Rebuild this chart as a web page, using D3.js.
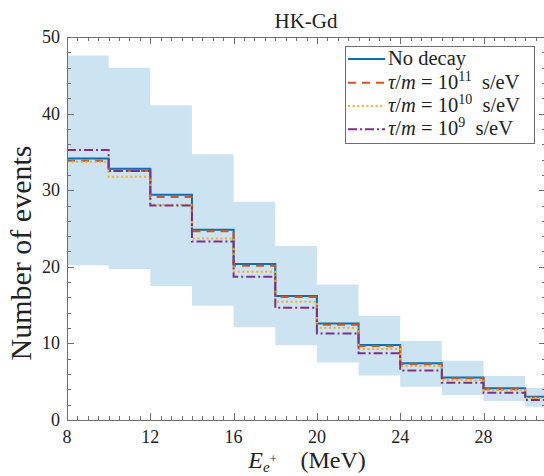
<!DOCTYPE html>
<html><head><meta charset="utf-8">
<script src="https://cdn.jsdelivr.net/npm/d3@7"></script>
<style>
html,body{margin:0;padding:0;background:#fff;}
svg{display:block;}
text{font-family:"Liberation Serif","Times New Roman",serif;fill:#222;}
</style></head>
<body>
<svg id="c" width="544" height="476"></svg>
<script>
// ---- data ----
const binStarts = [8,10,12,14,16,18,20,22,24,26,28,30];
const binWidth = 2;
const noDecay = [34.15,32.8,29.4,24.85,20.35,16.2,12.6,9.8,7.4,5.55,4.13,3.05];
const tau11   = [33.85,32.55,29.1,24.65,20.15,16.05,12.45,9.65,7.3,5.45,4.0,2.95];
const tau10   = [33.7,31.75,28.1,23.7,19.35,15.45,12.05,9.27,7.05,5.22,3.9,2.88];
const tau9    = [35.25,32.5,28.0,23.3,18.7,14.65,11.3,8.7,6.45,4.87,3.57,2.6];
const bandUpper = [47.6,46.0,41.1,34.7,28.5,22.7,17.7,13.6,10.3,7.75,5.74,4.2];
const bandLower = [20.2,19.7,17.5,14.9,12.1,9.75,7.5,5.8,4.35,3.26,2.48,1.74];
const xTicks = [8,12,16,20,24,28];
const yTicks = [0,10,20,30,40,50];
const seriesNames = ["No decay","τ/m = 10^11 s/eV","τ/m = 10^10 s/eV","τ/m = 10^9 s/eV"];

const svg = d3.select("#c");
const L=67, R=546, T=37, B=420;
const x = d3.scaleLinear().domain([8,31]).range([L,R]);
const y = d3.scaleLinear().domain([0,50]).range([B,T]);

svg.append("clipPath").attr("id","clip").append("rect")
  .attr("x",L).attr("y",T).attr("width",R-L).attr("height",B-T);
const plot = svg.append("g").attr("clip-path","url(#clip)");

function stepPts(vals){
  const pts = binStarts.map((s,i)=>[s, vals[i]]);
  pts.push([binStarts[binStarts.length-1]+binWidth, vals[vals.length-1]]);
  return pts;
}
// band
const bandPts = binStarts.map((s,i)=>({x:s,u:bandUpper[i],l:bandLower[i]}));
bandPts.push({x:binStarts[binStarts.length-1]+binWidth,u:bandUpper[bandUpper.length-1],l:bandLower[bandLower.length-1]});
plot.append("path").datum(bandPts)
  .attr("d", d3.area().curve(d3.curveStepAfter).x(d=>x(d.x)).y0(d=>y(d.l)).y1(d=>y(d.u)))
  .attr("fill","#0072BD").attr("fill-opacity",0.2).attr("stroke","none");

const styles = [
  {vals:noDecay, color:"#0072BD", dash:null},
  {vals:tau11, color:"#D95319", dash:"8,6"},
  {vals:tau10, color:"#EDB120", dash:"2,2.6"},
  {vals:tau9, color:"#7E2F8E", dash:"9,3,2,3"}
];
const line = d3.line().curve(d3.curveStepAfter).x(d=>x(d[0])).y(d=>y(d[1]));
styles.forEach(s=>{
  plot.append("path").datum(stepPts(s.vals)).attr("d",line)
    .attr("fill","none").attr("stroke",s.color).attr("stroke-width",2)
    .attr("stroke-dasharray",s.dash);
});

// axes frame
const axCol = "#6e6e6e";
const g = svg.append("g").attr("stroke",axCol).attr("stroke-width",1).attr("fill","none");
g.append("line").attr("x1",L).attr("x2",R).attr("y1",B+0.5).attr("y2",B+0.5);
g.append("line").attr("x1",L).attr("x2",R).attr("y1",T+0.5).attr("y2",T+0.5);
g.append("line").attr("x1",L+0.5).attr("x2",L+0.5).attr("y1",T).attr("y2",B);
g.append("line").attr("x1",R+0.5).attr("x2",R+0.5).attr("y1",T).attr("y2",B);
// x ticks
const xMinor = d3.range(8, 31.01, 0.5);
xMinor.forEach(v=>{
  const major = xTicks.includes(v);
  const len = major?7:4;
  const px = Math.round(x(v))+0.5;
  g.append("line").attr("x1",px).attr("x2",px).attr("y1",B).attr("y2",B-len);
  g.append("line").attr("x1",px).attr("x2",px).attr("y1",T).attr("y2",T+len);
});
const yMinor = d3.range(0, 50.01, 2);
yMinor.concat(yTicks).forEach(v=>{
  const major = yTicks.includes(v);
  const len = major?7:4;
  const py = Math.round(y(v))+0.5;
  g.append("line").attr("x1",L).attr("x2",L+len).attr("y1",py).attr("y2",py);
  g.append("line").attr("x1",R).attr("x2",R-len).attr("y1",py).attr("y2",py);
});
// tick labels
xTicks.forEach(v=>{
  svg.append("text").attr("x",x(v)).attr("y",443).attr("text-anchor","middle")
    .attr("font-size",18).text(v);
});
yTicks.forEach(v=>{
  svg.append("text").attr("x",60).attr("y",y(v)+6).attr("text-anchor","end")
    .attr("font-size",18).text(v);
});

// title
svg.append("text").attr("x",306).attr("y",28).attr("text-anchor","middle")
  .attr("font-size",21).text("HK-Gd");

// x label
const xl = svg.append("text").attr("x",307).attr("y",468).attr("text-anchor","middle").attr("font-size",24);
xl.append("tspan").attr("font-style","italic").text("E");
xl.append("tspan").attr("font-style","italic").attr("font-size",15).attr("dy",4).text("e");
xl.append("tspan").attr("font-size",12).attr("dy",-9).text("+");
xl.append("tspan").attr("dy",5).text("\u2003(MeV)");

// y label
svg.append("text").attr("transform","translate(31,253) rotate(-90)")
  .attr("text-anchor","middle").attr("font-size",30).text("Number of events");

// legend
const lg = svg.append("g");
lg.append("rect").attr("x",345.5).attr("y",46.5).attr("width",189).attr("height",97)
  .attr("fill","#fff").attr("stroke",axCol).attr("stroke-width",1);
const rowY = [59,82.7,106,129.3];
styles.forEach((s,i)=>{
  lg.append("line").attr("x1",348).attr("x2",385).attr("y1",rowY[i]).attr("y2",rowY[i])
    .attr("stroke",s.color).attr("stroke-width",2).attr("stroke-dasharray",s.dash);
  const t = lg.append("text").attr("x",388).attr("y",rowY[i]+6).attr("font-size",20.5);
  const name = seriesNames[i];
  if(i===0){ t.text(name); }
  else {
    const m = name.match(/τ\/m = 10\^(\d+) (.*)/);
    t.append("tspan").attr("font-style","italic").text("τ");
    t.append("tspan").text("/");
    t.append("tspan").attr("font-style","italic").text("m");
    t.append("tspan").text(" = 10");
    t.append("tspan").attr("font-size",14).attr("dy",-8).text(m[1]);
    t.append("tspan").attr("dy",8).text("\u2002"+m[2]);
  }
});
</script>
</body></html>
